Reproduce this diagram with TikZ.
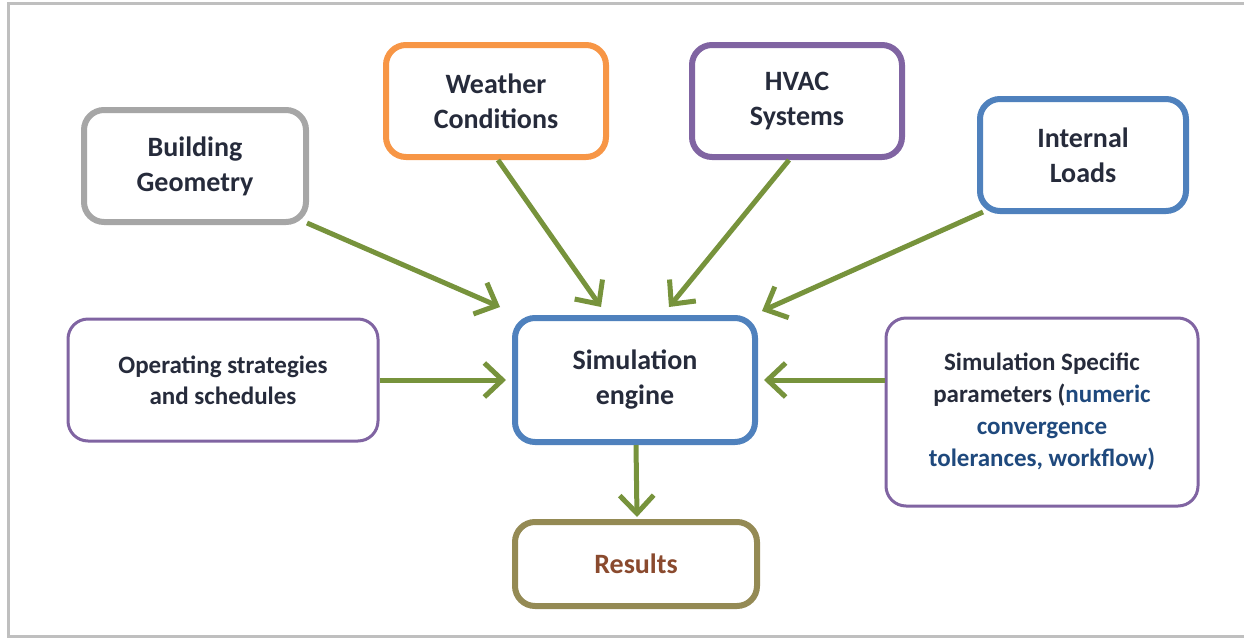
\documentclass[tikz,border=0pt]{standalone}
\usepackage{fontspec}
\setmainfont{Carlito}
\usetikzlibrary{arrows.meta}

\definecolor{arrowgreen}{HTML}{77933C}
\definecolor{boxgray}{HTML}{A6A6A6}
\definecolor{boxorange}{HTML}{F79646}
\definecolor{boxpurple}{HTML}{8064A2}
\definecolor{boxblue}{HTML}{4F81BD}
\definecolor{boxolive}{HTML}{948A54}
\definecolor{textdark}{HTML}{262B3B}
\definecolor{textblue}{HTML}{1F497D}
\definecolor{textbrown}{HTML}{8A4A2E}
\definecolor{framegray}{HTML}{BFBFBF}

\begin{document}
\begin{tikzpicture}[x=0.5pt,y=-0.5pt]
  \tikzset{inputbox/.style={draw, rounded corners=10pt, line width=3pt, fill=white,
      align=center, text=textdark, font=\fontsize{14}{17.5}\selectfont\bfseries,
      inner sep=0pt},
    sidebox/.style={inputbox, line width=1.5pt, draw=boxpurple,
      font=\fontsize{12.5}{15.5}\selectfont\bfseries},
    feed/.style={draw=arrowgreen, line width=2.5pt,
      -{Straight Barb[length=9pt, width=17pt, line width=2.5pt]}}}
  \useasboundingbox (0,0) rectangle (1244,638);
  % outer frame, right edge lies outside the picture
  \draw[framegray, line width=1.5pt] (1250,3) -- (8,3) -- (8,636) -- (1250,636);

  \node[inputbox, draw=boxgray, minimum width=111pt, minimum height=56pt] (geometry) at (195,166) {Building\\Geometry};
  \node[inputbox, draw=boxorange, minimum width=110pt, minimum height=56pt] (weather) at (496,101) {Weather\\Conditions};
  \node[inputbox, draw=boxpurple, minimum width=105pt, minimum height=56pt] (hvac) at (797,101) {HVAC\\Systems};
  \node[inputbox, draw=boxblue, minimum width=103pt, minimum height=56pt] (loads) at (1083,155) {Internal\\Loads};
  \node[sidebox, minimum width=155pt, minimum height=61pt] (schedules) at (223,380) {Operating strategies\\and schedules};
  \node[inputbox, draw=boxblue, minimum width=120pt, minimum height=62pt] (engine) at (635,380) {Simulation\\engine};
  \node[sidebox, minimum width=156pt, minimum height=94pt, font=\fontsize{12.5}{16}\selectfont\bfseries] (params) at (1042,412)
    {Simulation Specific\\parameters (\textcolor{textblue}{numeric}\\\textcolor{textblue}{convergence}\\\textcolor{textblue}{tolerances, workflow)}};
  \node[inputbox, draw=boxolive, text=textbrown, minimum width=121pt, minimum height=42pt] (results) at (636,564) {Results};

  \draw[feed] (geometry.south east) ++(-1pt,1pt) -- ([xshift=-6pt,yshift=4pt]engine.north west);
  \draw[feed] ([xshift=1pt]weather.south) -- ([xshift=-17pt,yshift=4pt]engine.north);
  \draw[feed] ([xshift=-4pt]hvac.south) -- ([xshift=17pt,yshift=4pt]engine.north);
  \draw[feed] ([xshift=3pt,yshift=1pt]loads.south west) -- ([xshift=2pt,yshift=2pt]engine.north east);
  \draw[feed] (schedules.east) -- ([xshift=-3pt]engine.west);
  \draw[feed] (params.west |- engine.east) -- ([xshift=3pt]engine.east);
  \draw[feed] ([xshift=0.5pt]engine.south) -- ([xshift=0.5pt,yshift=1pt]results.north);
\end{tikzpicture}
\end{document}
